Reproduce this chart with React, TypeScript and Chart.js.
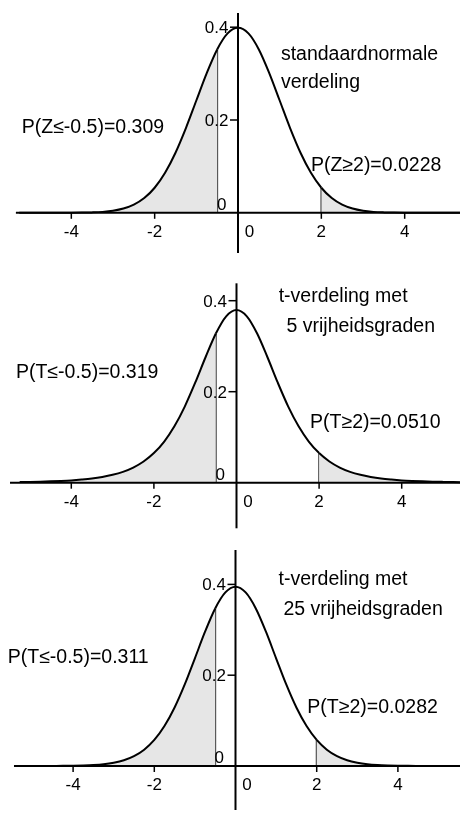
import React, { useEffect, useRef } from "react";
import { Chart, registerables } from "chart.js";

Chart.register(...registerables);

// ---------- data ----------
const xGrid = [
  -5.25, -5, -4.75, -4.5, -4.25, -4, -3.75, -3.5, -3.25, -3, -2.75, -2.5, -2.25, -2,
  -1.75, -1.5, -1.25, -1, -0.75, -0.5, -0.25, 0, 0.25, 0.5, 0.75, 1, 1.25, 1.5, 1.75,
  2, 2.25, 2.5, 2.75, 3, 3.25, 3.5, 3.75, 4, 4.25, 4.5, 4.75, 5, 5.25, 5.5,
];

const normalDensity = [
  0, 0, 0, 0, 0, 0.0001, 0.0004, 0.0009, 0.002, 0.0044, 0.0091, 0.0175, 0.0317, 0.054,
  0.0863, 0.1295, 0.1826, 0.242, 0.3011, 0.3521, 0.3867, 0.3989, 0.3867, 0.3521, 0.3011,
  0.242, 0.1826, 0.1295, 0.0863, 0.054, 0.0317, 0.0175, 0.0091, 0.0044, 0.002, 0.0009,
  0.0004, 0.0001, 0, 0, 0, 0, 0, 0,
];

const t5Density = [
  0.0014, 0.0018, 0.0023, 0.003, 0.0039, 0.0051, 0.0069, 0.0092, 0.0126, 0.0173, 0.0239,
  0.0333, 0.0466, 0.0651, 0.0905, 0.1245, 0.1679, 0.2197, 0.2757, 0.3279, 0.3657, 0.3796,
  0.3657, 0.3279, 0.2757, 0.2197, 0.1679, 0.1245, 0.0905, 0.0651, 0.0466, 0.0333, 0.0239,
  0.0173, 0.0126, 0.0092, 0.0069, 0.0051, 0.0039, 0.003, 0.0023, 0.0018, 0.0014, 0.0011,
];

const t25Density = [
  0, 0, 0.0001, 0.0002, 0.0003, 0.0006, 0.0012, 0.0022, 0.004, 0.0073, 0.0127, 0.0217,
  0.0359, 0.0574, 0.0879, 0.1288, 0.1796, 0.2372, 0.2958, 0.3471, 0.3824, 0.395, 0.3824,
  0.3471, 0.2958, 0.2372, 0.1796, 0.1288, 0.0879, 0.0574, 0.0359, 0.0217, 0.0127, 0.0073,
  0.004, 0.0022, 0.0012, 0.0006, 0.0003, 0.0002, 0.0001, 0, 0, 0,
];

const densities = [normalDensity, t5Density, t25Density];

const xTicks = [-4, -2, 0, 2, 4];
const xTickLabels = ["-4", "-2", "0", "2", "4"];
const yTicks = [0, 0.2, 0.4];
const yTickLabels = ["0", "0.2", "0.4"];

const leftCut = -0.5;
const rightCut = 2;

const panelTitles = [
  ["standaardnormale", "verdeling"],
  ["t-verdeling met", "5 vrijheidsgraden"],
  ["t-verdeling met", "25 vrijheidsgraden"],
];
const leftProbLabels = ["P(Z≤-0.5)=0.309", "P(T≤-0.5)=0.319", "P(T≤-0.5)=0.311"];
const rightProbLabels = ["P(Z≥2)=0.0228", "P(T≥2)=0.0510", "P(T≥2)=0.0282"];

// ---------- layout (pixels / data-anchored label positions) ----------
const WIDTH = 460;
const panelLayouts = [
  {
    height: 270, zeroX: 238, unitX: 41.67, zeroY: 212.8, unitY: 464,
    xAxisFrom: -5.33, yAxisTop: 0.4306, yAxisBottom: -0.0866,
    titlePos: [[1.03, 0.3293], [1.03, 0.2683]],
    leftPos: [-5.19, 0.1726], rightPos: [1.75, 0.0907],
  },
  {
    height: 270, zeroX: 236.5, unitX: 41.3, zeroY: 212.7, unitY: 455,
    xAxisFrom: -5.484, yAxisTop: 0.4382, yAxisBottom: -0.1002,
    titlePos: [[1.02, 0.3978], [1.21, 0.3319]],
    leftPos: [-5.34, 0.2295], rightPos: [1.78, 0.1196],
  },
  {
    height: 273, zeroX: 235.5, unitX: 40.6, zeroY: 226, unitY: 454,
    xAxisFrom: -5.456, yAxisTop: 0.4758, yAxisBottom: -0.0969,
    titlePos: [[1.06, 0.3987], [1.18, 0.3326]],
    leftPos: [-5.61, 0.2262], rightPos: [1.77, 0.1161],
  },
];

const SHADE = "#e6e6e6";
const CUT_LINE = "#555555";
const FONT_FAMILY = '"Liberation Sans", Arial, Helvetica, sans-serif';

const axesPlugin = {
  id: "manualAxes",
  afterDatasetsDraw(chart: any, _args: any, opts: any) {
    const { ctx } = chart;
    const xs = chart.scales.x;
    const ys = chart.scales.y;
    const p = opts.panel as number;
    const L = panelLayouts[p];
    const x0 = xs.getPixelForValue(0);
    const y0 = ys.getPixelForValue(0);
    ctx.save();
    ctx.strokeStyle = "#000";
    ctx.fillStyle = "#000";
    ctx.lineWidth = 2;
    // x axis
    ctx.beginPath();
    ctx.moveTo(xs.getPixelForValue(L.xAxisFrom), y0);
    ctx.lineTo(chart.chartArea.right, y0);
    ctx.stroke();
    // y axis
    ctx.beginPath();
    ctx.moveTo(x0, ys.getPixelForValue(L.yAxisTop));
    ctx.lineTo(x0, ys.getPixelForValue(L.yAxisBottom));
    ctx.stroke();
    // x ticks
    ctx.lineWidth = 1.5;
    xTicks.forEach((v) => {
      if (v === 0) return;
      const px = xs.getPixelForValue(v);
      ctx.beginPath();
      ctx.moveTo(px, y0);
      ctx.lineTo(px, y0 + 6);
      ctx.stroke();
    });
    // y ticks
    yTicks.forEach((v) => {
      if (v === 0) return;
      const py = ys.getPixelForValue(v);
      ctx.beginPath();
      ctx.moveTo(x0 - 8, py);
      ctx.lineTo(x0, py);
      ctx.stroke();
    });
    ctx.font = `17px ${FONT_FAMILY}`;
    ctx.textBaseline = "alphabetic";
    ctx.textAlign = "center";
    xTicks.forEach((v, i) => {
      const px = v === 0 ? x0 + 11.5 : xs.getPixelForValue(v);
      ctx.fillText(xTickLabels[i], px, y0 + 24);
    });
    ctx.textAlign = "right";
    yTicks.forEach((v, i) => {
      if (v === 0) {
        ctx.fillText(yTickLabels[i], x0 - 11.5, y0 - 3);
      } else {
        ctx.fillText(yTickLabels[i], x0 - 9.5, ys.getPixelForValue(v) + 6);
      }
    });
    // annotations
    ctx.font = `19.5px ${FONT_FAMILY}`;
    ctx.textAlign = "left";
    panelTitles[p].forEach((t, i) => {
      const [ax, ay] = L.titlePos[i];
      ctx.fillText(t, xs.getPixelForValue(ax), ys.getPixelForValue(ay));
    });
    ctx.fillText(leftProbLabels[p], xs.getPixelForValue(L.leftPos[0]), ys.getPixelForValue(L.leftPos[1]));
    ctx.fillText(rightProbLabels[p], xs.getPixelForValue(L.rightPos[0]), ys.getPixelForValue(L.rightPos[1]));
    ctx.restore();
  },
};

function Panel({ index }: { index: number }) {
  const ref = useRef<HTMLCanvasElement>(null);
  const L = panelLayouts[index];
  useEffect(() => {
    const canvas = ref.current;
    if (!canvas) return;
    const dens = densities[index];
    const curve = xGrid.map((x, i) => ({ x, y: dens[i] }));
    const li = xGrid.indexOf(leftCut);
    const ri = xGrid.indexOf(rightCut);
    const chart = new Chart(canvas, {
      type: "line",
      data: {
        datasets: [
          {
            data: curve,
            borderColor: "#000",
            borderWidth: 2,
            pointRadius: 0,
            cubicInterpolationMode: "monotone",
            fill: "origin",
            backgroundColor: "rgba(0,0,0,0)",
            segment: {
              backgroundColor: (c: any) =>
                xGrid[c.p1DataIndex] <= leftCut || xGrid[c.p0DataIndex] >= rightCut
                  ? SHADE
                  : "rgba(0,0,0,0)",
            },
          } as any,
          {
            data: [{ x: leftCut, y: 0 }, { x: leftCut, y: dens[li] }],
            borderColor: CUT_LINE,
            borderWidth: 2,
            pointRadius: 0,
            fill: false,
          },
          {
            data: [{ x: rightCut, y: 0 }, { x: rightCut, y: dens[ri] }],
            borderColor: CUT_LINE,
            borderWidth: 2,
            pointRadius: 0,
            fill: false,
          },
        ],
      },
      options: {
        responsive: false,
        animation: false,
        events: [],
        layout: { padding: 0 },
        scales: {
          x: {
            type: "linear",
            display: false,
            min: -L.zeroX / L.unitX,
            max: (WIDTH - L.zeroX) / L.unitX,
          },
          y: {
            type: "linear",
            display: false,
            min: (L.zeroY - L.height) / L.unitY,
            max: L.zeroY / L.unitY,
          },
        },
        plugins: {
          legend: { display: false },
          tooltip: { enabled: false },
          title: { display: false },
          manualAxes: { panel: index },
        } as any,
      },
      plugins: [axesPlugin],
    });
    return () => chart.destroy();
  }, [index]);
  return (
    <canvas
      ref={ref}
      width={WIDTH}
      height={L.height}
      style={{ display: "block", width: WIDTH, height: L.height }}
    />
  );
}

export default function App() {
  return (
    <div style={{ position: "absolute", left: 0, top: 0, width: WIDTH, background: "#fff" }}>
      <Panel index={0} />
      <Panel index={1} />
      <Panel index={2} />
    </div>
  );
}
